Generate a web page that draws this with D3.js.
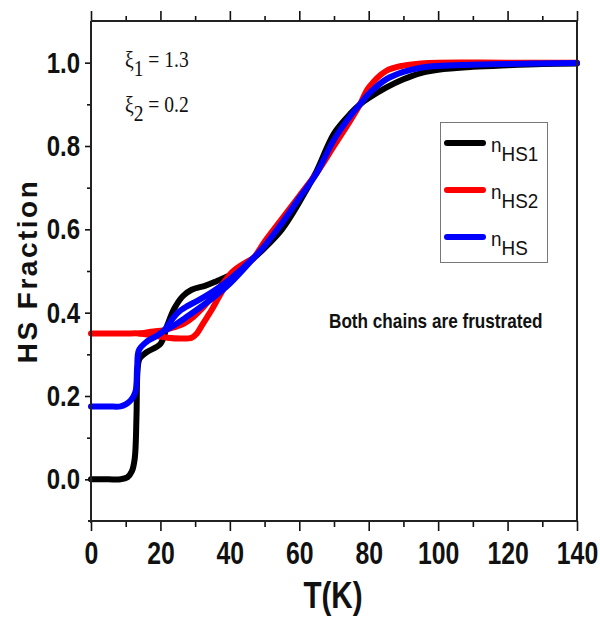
<!DOCTYPE html>
<html lang="en">
<head>
<meta charset="UTF-8">
<title>HS Fraction vs T</title>
<script src="https://d3js.org/d3.v7.min.js"></script>
<style>
  body { margin: 0; background: #fff; }
  svg { display: block; }
</style>
</head>
<body>
<div id="chart"></div>
<script>

// ---- data ----
// nHS1 (black), single branch
const tHS1 = [0, 5, 8.5, 10.5, 11.8, 12.6, 13.1, 13.4, 14, 16, 20, 22, 24, 26.5, 29, 33, 36, 40, 43, 46.7,
              50, 55, 60, 65, 70, 75, 77.5, 80, 85, 90, 95, 100, 110, 120, 130, 140];
const nHS1 = [0, 0, 0, 0.005, 0.02, 0.05, 0.15, 0.26, 0.29, 0.305, 0.325, 0.37, 0.41, 0.44, 0.455, 0.465, 0.475, 0.49, 0.51, 0.53,
              0.555, 0.60, 0.665, 0.74, 0.83, 0.88, 0.90, 0.915, 0.94, 0.96, 0.975, 0.983, 0.99, 0.994, 0.997, 0.998];

// nHS2 (red), lower and upper branch of the loop
const tHS2a = [0, 10, 14, 18, 22, 26, 29, 30.5, 32, 33.5, 35, 37, 40, 43, 46.7,
               50, 55, 60, 65, 70, 75, 77.5, 80, 85, 90, 95, 100, 120, 140];
const nHS2a = [0.35, 0.35, 0.35, 0.345, 0.34, 0.338, 0.34, 0.35, 0.37, 0.39, 0.41, 0.44, 0.48, 0.505, 0.53,
               0.57, 0.625, 0.68, 0.735, 0.80, 0.865, 0.90, 0.94, 0.98, 0.993, 0.998, 1.0, 1.0, 1.0];
const tHS2b = [14, 18, 21, 24, 27, 29.5, 32, 35, 38, 41, 46.7];
const nHS2b = [0.35, 0.355, 0.358, 0.365, 0.375, 0.39, 0.41, 0.44, 0.47, 0.50, 0.53];

// nHS (blue), upper and lower branch of the loop
const tHSa = [0, 5, 8.5, 10, 11.5, 12.8, 13.3, 13.8, 16, 18, 20.8, 23, 25, 27.6, 31, 35, 40, 46.7,
              50, 55, 60, 65, 70, 75, 77.5, 80, 85, 90, 95, 100, 120, 140];
const nHSa = [0.175, 0.175, 0.175, 0.18, 0.19, 0.21, 0.27, 0.31, 0.33, 0.34, 0.355, 0.38, 0.40, 0.415, 0.43, 0.45, 0.48, 0.53,
              0.56, 0.615, 0.675, 0.735, 0.815, 0.875, 0.90, 0.925, 0.96, 0.978, 0.988, 0.992, 0.997, 0.999];
const tHSb = [20.8, 24, 27.6, 31, 35, 40, 46.7];
const nHSb = [0.355, 0.37, 0.39, 0.41, 0.435, 0.47, 0.53];

const xTicks = [0, 20, 40, 60, 80, 100, 120, 140];
const xMinor = [10, 30, 50, 70, 90, 110, 130];
const yTicks = [0.0, 0.2, 0.4, 0.6, 0.8, 1.0];
const yMinor = [0.1, 0.3, 0.5, 0.7, 0.9];

const seriesNames = ["HS1", "HS2", "HS"];
const seriesColors = ["#000000", "#ff0000", "#0000ff"];

// ---- layout ----
const width = 600, height = 619;
const pLeft = 91, pRight = 577, pTop = 21, pBottom = 521;

const svg = d3.select("#chart").append("svg")
    .attr("width", width)
    .attr("height", height);

const x = d3.scaleLinear().domain([0, 140]).range([pLeft, pRight]);
const y = d3.scaleLinear().domain([-0.1, 1.1]).range([pBottom, pTop]);

const fontSans = "'Liberation Sans', Arial, sans-serif";
const fontSerif = "'Liberation Serif', 'Times New Roman', serif";
const sx = 0.8; // labels in the figure are condensed

// ---- curves ----
const line = d3.line()
    .x(d => x(d[0]))
    .y(d => y(d[1]))
    .curve(d3.curveCatmullRom.alpha(0.5));

const branches = [
    {t: tHS1, v: nHS1, c: 0},
    {t: tHS2b, v: nHS2b, c: 1},
    {t: tHS2a, v: nHS2a, c: 1},
    {t: tHSb, v: nHSb, c: 2},
    {t: tHSa, v: nHSa, c: 2}
];

svg.append("g")
    .selectAll("path")
    .data(branches)
    .join("path")
    .attr("d", b => line(b.t.map((t, i) => [t, b.v[i]])))
    .attr("fill", "none")
    .attr("stroke", b => seriesColors[b.c])
    .attr("stroke-width", 6)
    .attr("stroke-linecap", "round")
    .attr("stroke-linejoin", "round");

// ---- axes ----
function styleTicks(g) {
    g.select(".domain").remove();
    g.selectAll(".tick line").attr("stroke", "#111").attr("stroke-width", 1.6);
}

// bottom
const gx = svg.append("g")
    .attr("transform", `translate(0,${pBottom})`)
    .call(d3.axisBottom(x).tickValues(xTicks).tickSize(10).tickPadding(11).tickFormat(d3.format("d")))
    .call(styleTicks);
gx.selectAll("text")
    .attr("font-family", fontSans)
    .attr("font-weight", "bold")
    .attr("font-size", 31)
    .attr("fill", "#111")
    .attr("transform", `scale(${sx},1)`);

svg.append("g")
    .attr("transform", `translate(0,${pBottom})`)
    .call(d3.axisBottom(x).tickValues(xMinor).tickSize(6).tickFormat(""))
    .call(styleTicks);

// top
svg.append("g")
    .attr("transform", `translate(0,${pTop})`)
    .call(d3.axisTop(x).tickValues(xTicks).tickSize(10).tickFormat(""))
    .call(styleTicks);
svg.append("g")
    .attr("transform", `translate(0,${pTop})`)
    .call(d3.axisTop(x).tickValues(xMinor).tickSize(5).tickFormat(""))
    .call(styleTicks);

// left
const gy = svg.append("g")
    .attr("transform", `translate(${pLeft},0)`)
    .call(d3.axisLeft(y).tickValues(yTicks).tickSize(6).tickPadding(5).tickFormat(d3.format(".1f")))
    .call(styleTicks);
gy.selectAll("text")
    .attr("font-family", fontSans)
    .attr("font-weight", "bold")
    .attr("font-size", 30)
    .attr("fill", "#111")
    .attr("x", -11 / sx)
    .attr("transform", `scale(${sx},1)`);

svg.append("g")
    .attr("transform", `translate(${pLeft},0)`)
    .call(d3.axisLeft(y).tickValues(yMinor).tickSize(4).tickFormat(""))
    .call(styleTicks);

// frame
svg.append("path")
    .attr("d", `M${pLeft},${pTop}H${pRight}V${pBottom}H${pLeft - 3}M${pLeft},${pTop}V${pBottom + 2}`)
    .attr("fill", "none")
    .attr("stroke", "#222")
    .attr("stroke-width", 2);

// axis titles
svg.append("text")
    .attr("transform", `translate(${(pLeft + pRight) / 2 - 1},608) scale(0.8,1)`)
    .attr("text-anchor", "middle")
    .attr("font-family", fontSans)
    .attr("font-weight", "bold")
    .attr("font-size", 37)
    .attr("fill", "#111")
    .text("T(K)");

svg.append("text")
    .attr("transform", "translate(37,271) rotate(-90)")
    .attr("text-anchor", "middle")
    .attr("font-family", fontSans)
    .attr("font-weight", "bold")
    .attr("font-size", 28)
    .attr("letter-spacing", 2.5)
    .attr("fill", "#111")
    .text("HS Fraction");

// ---- annotations ----
const params = [["1", "1.3"], ["2", "0.2"]];
params.forEach((p, i) => {
    const t = svg.append("text")
        .attr("transform", `translate(125,${67 + i * 45}) scale(0.85,1)`)
        .attr("font-family", fontSerif)
        .attr("font-size", 23)
        .attr("fill", "#111");
    t.append("tspan").text("\u03BE");
    t.append("tspan").attr("dy", 9).text(p[0]);
    t.append("tspan").attr("dy", -9).text(" = " + p[1]);
});

svg.append("text")
    .attr("transform", "translate(329,328) scale(0.88,1)")
    .attr("font-family", fontSans)
    .attr("font-weight", "bold")
    .attr("font-size", 19.5)
    .attr("fill", "#111")
    .text("Both chains are frustrated");

// ---- legend ----
const legend = svg.append("g");
legend.append("rect")
    .attr("x", 440.5).attr("y", 122.5)
    .attr("width", 107).attr("height", 140)
    .attr("fill", "#fff")
    .attr("stroke", "#777")
    .attr("stroke-width", 1);

const rows = legend.selectAll("g.row")
    .data(seriesNames)
    .join("g")
    .attr("class", "row")
    .attr("transform", (d, i) => `translate(445,${143 + i * 47})`);

rows.append("line")
    .attr("x1", 2).attr("x2", 38)
    .attr("stroke", (d, i) => seriesColors[i])
    .attr("stroke-width", 6)
    .attr("stroke-linecap", "round");

const lt = rows.append("text")
    .attr("transform", "translate(46,9) scale(0.9,1)")
    .attr("font-family", fontSans)
    .attr("font-size", 21)
    .attr("fill", "#111");
lt.append("tspan").text("n");
lt.append("tspan").attr("dy", 9).text(d => d);

</script>
</body>
</html>
